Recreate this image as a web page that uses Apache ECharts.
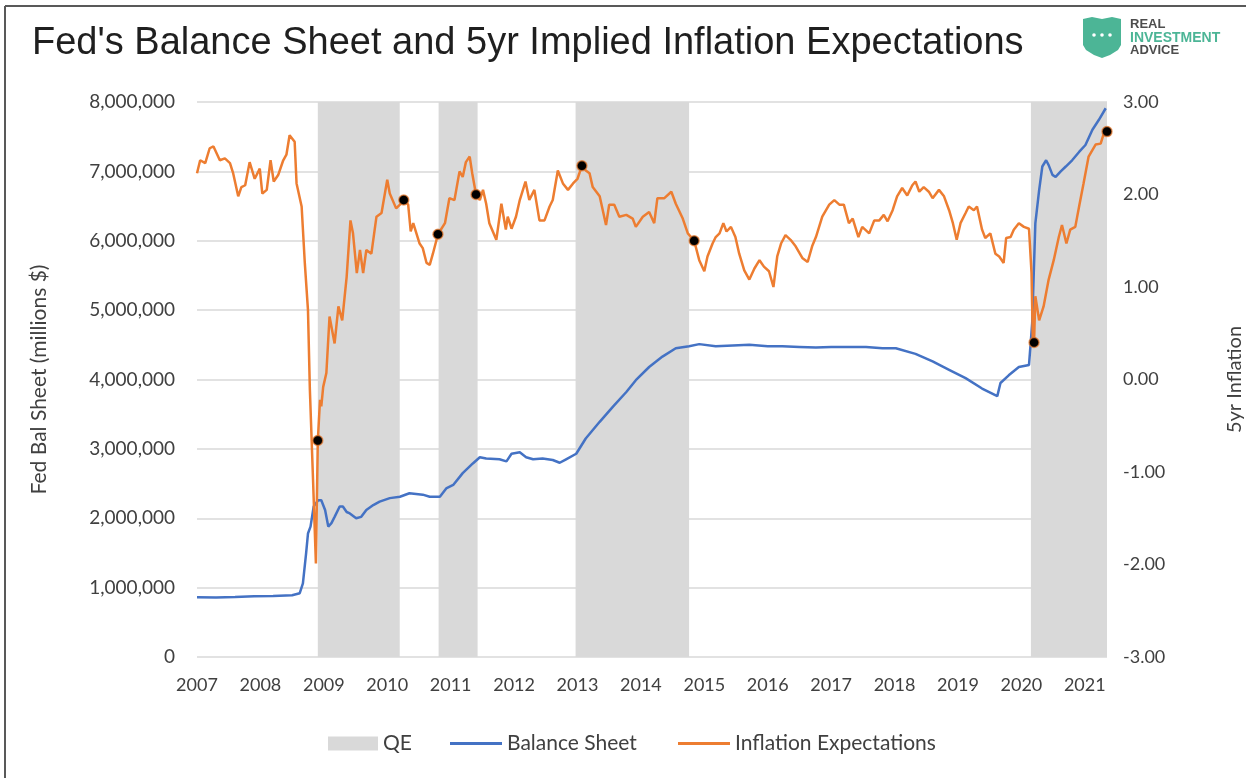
<!DOCTYPE html>
<html><head><meta charset="utf-8">
<script src="https://cdn.jsdelivr.net/npm/echarts@6/dist/echarts.min.js"></script>
<style>html,body{margin:0;padding:0;background:#fff}#c{width:1246px;height:778px}</style>
</head><body><div id="c"></div>
<script>
// ---- data ----
const xMin = 2007, xMax = 2021.35;
const qeStart = [2008.905, 2010.81, 2012.97, 2020.15];
const qeEnd   = [2010.197, 2011.425, 2014.76, 2021.35];

const bsYears = [2007.00,2007.30,2007.60,2007.90,2008.20,2008.50,2008.62,2008.67,2008.72,2008.75,2008.79,2008.84,2008.91,2008.96,2009.02,2009.07,2009.12,2009.17,2009.25,2009.30,2009.36,2009.41,2009.51,2009.59,2009.67,2009.78,2009.88,2010.04,2010.20,2010.35,2010.56,2010.67,2010.83,2010.93,2011.04,2011.19,2011.35,2011.46,2011.56,2011.77,2011.88,2011.96,2012.09,2012.19,2012.30,2012.45,2012.61,2012.72,2012.82,2012.98,2013.13,2013.35,2013.56,2013.77,2013.92,2014.13,2014.34,2014.55,2014.76,2014.92,2015.18,2015.45,2015.71,2016.00,2016.23,2016.50,2016.76,2017.00,2017.28,2017.55,2017.81,2018.02,2018.33,2018.60,2018.86,2019.12,2019.38,2019.62,2019.67,2019.80,2019.96,2020.12,2020.17,2020.22,2020.28,2020.33,2020.39,2020.43,2020.49,2020.54,2020.62,2020.70,2020.80,2020.91,2021.01,2021.12,2021.22,2021.33];
const bsValues = [860000,858000,866000,875000,880000,890000,920000,1060000,1490000,1780000,1880000,2170000,2260000,2260000,2120000,1880000,1930000,2020000,2170000,2170000,2090000,2070000,2000000,2020000,2120000,2190000,2240000,2290000,2310000,2360000,2340000,2310000,2310000,2430000,2480000,2650000,2790000,2880000,2860000,2850000,2820000,2930000,2950000,2880000,2850000,2860000,2840000,2800000,2850000,2930000,3150000,3390000,3610000,3820000,3990000,4180000,4330000,4450000,4480000,4510000,4480000,4490000,4500000,4480000,4480000,4470000,4460000,4470000,4470000,4470000,4450000,4450000,4370000,4260000,4140000,4020000,3870000,3760000,3950000,4060000,4180000,4210000,4810000,6250000,6730000,7070000,7160000,7090000,6950000,6920000,7000000,7070000,7160000,7280000,7380000,7600000,7740000,7910000];

const inflYears = [2007.00,2007.05,2007.13,2007.20,2007.26,2007.36,2007.44,2007.52,2007.57,2007.65,2007.70,2007.76,2007.83,2007.91,2007.99,2008.03,2008.10,2008.16,2008.21,2008.28,2008.36,2008.41,2008.46,2008.54,2008.57,2008.65,2008.70,2008.75,2008.78,2008.83,2008.875,2008.905,2008.94,2008.96,2008.99,2009.04,2009.09,2009.17,2009.23,2009.29,2009.36,2009.42,2009.46,2009.52,2009.57,2009.62,2009.67,2009.75,2009.83,2009.91,2010.00,2010.04,2010.14,2010.20,2010.26,2010.33,2010.37,2010.41,2010.51,2010.56,2010.62,2010.67,2010.72,2010.80,2010.91,2010.98,2011.06,2011.14,2011.19,2011.24,2011.30,2011.34,2011.40,2011.46,2011.51,2011.56,2011.61,2011.72,2011.80,2011.87,2011.90,2011.96,2012.03,2012.09,2012.18,2012.24,2012.32,2012.40,2012.48,2012.56,2012.61,2012.69,2012.77,2012.85,2012.93,2013.00,2013.07,2013.13,2013.19,2013.24,2013.35,2013.45,2013.50,2013.58,2013.66,2013.77,2013.87,2013.92,2014.03,2014.13,2014.21,2014.26,2014.37,2014.48,2014.55,2014.66,2014.74,2014.84,2014.92,2015.00,2015.05,2015.13,2015.18,2015.24,2015.30,2015.35,2015.42,2015.49,2015.55,2015.63,2015.71,2015.79,2015.87,2015.94,2016.02,2016.09,2016.15,2016.21,2016.28,2016.36,2016.44,2016.55,2016.63,2016.70,2016.76,2016.86,2016.97,2017.05,2017.13,2017.20,2017.28,2017.34,2017.43,2017.49,2017.60,2017.68,2017.76,2017.83,2017.89,2017.97,2018.04,2018.12,2018.20,2018.28,2018.33,2018.39,2018.46,2018.54,2018.60,2018.70,2018.78,2018.86,2018.92,2018.98,2019.04,2019.12,2019.17,2019.25,2019.30,2019.38,2019.43,2019.51,2019.59,2019.65,2019.72,2019.76,2019.83,2019.88,2019.96,2020.04,2020.12,2020.16,2020.18,2020.20,2020.22,2020.28,2020.35,2020.43,2020.51,2020.59,2020.64,2020.71,2020.77,2020.85,2020.91,2020.98,2021.06,2021.17,2021.25,2021.30,2021.35];
const inflValues = [2.23,2.37,2.34,2.50,2.52,2.37,2.39,2.34,2.23,1.98,2.08,2.10,2.35,2.17,2.28,2.01,2.05,2.37,2.14,2.21,2.37,2.43,2.64,2.57,2.12,1.87,1.26,0.75,-0.11,-1.09,-1.99,-0.66,-0.22,-0.29,-0.08,0.07,0.68,0.39,0.79,0.64,1.11,1.72,1.58,1.15,1.40,1.15,1.40,1.36,1.76,1.80,2.16,2.01,1.85,1.89,1.94,1.89,1.60,1.69,1.47,1.42,1.26,1.24,1.36,1.57,1.69,1.96,1.94,2.25,2.19,2.35,2.41,2.23,2.00,1.94,2.05,1.90,1.69,1.51,1.90,1.62,1.76,1.63,1.76,1.94,2.14,1.94,2.05,1.72,1.72,1.87,1.94,2.26,2.12,2.05,2.12,2.17,2.31,2.26,2.23,2.08,1.98,1.67,1.89,1.89,1.76,1.78,1.74,1.65,1.76,1.81,1.69,1.96,1.96,2.03,1.90,1.74,1.58,1.50,1.29,1.17,1.33,1.47,1.54,1.58,1.69,1.60,1.65,1.54,1.36,1.18,1.08,1.20,1.29,1.22,1.17,1.00,1.33,1.47,1.56,1.51,1.44,1.31,1.27,1.44,1.54,1.76,1.89,1.94,1.89,1.89,1.69,1.74,1.54,1.65,1.58,1.72,1.72,1.78,1.71,1.83,1.98,2.07,1.99,2.10,2.14,2.03,2.08,2.03,1.96,2.05,1.98,1.83,1.69,1.51,1.69,1.80,1.87,1.83,1.87,1.62,1.53,1.58,1.36,1.33,1.26,1.53,1.54,1.62,1.69,1.65,1.63,1.15,0.43,0.40,0.90,0.64,0.79,1.08,1.29,1.54,1.67,1.47,1.62,1.65,1.87,2.12,2.41,2.54,2.55,2.66,2.68];

const dotYears  = [2008.905,2010.26,2010.80,2011.40,2013.07,2014.84,2020.20,2021.35];
const dotValues = [-0.66,1.94,1.57,2.00,2.31,1.50,0.40,2.68];

const leftTicks = {min: 0, max: 8000000, interval: 1000000};
const rightTicks = {min: -3, max: 3, interval: 1};

// ---- chart ----
const pairs = (xs, ys) => xs.map((x, i) => [x, ys[i]]);
const FONT = 'Lato';
const TXT = '#404040';
const chart = echarts.init(document.getElementById('c'), null, {renderer: 'canvas'});
chart.setOption({
  animation: false,
  backgroundColor: '#ffffff',
  title: {
    text: "Fed's Balance Sheet and 5yr Implied Inflation Expectations",
    left: 32, top: 25, padding: 0,
    textStyle: {fontFamily: 'Liberation Sans', fontSize: 38, fontWeight: 'normal', color: '#1f1f1f'}
  },
  grid: {left: 197, right: 139, top: 102, bottom: 121, outerBoundsMode: 'none', containLabel: false},
  legend: [
    {data: [{name: 'QE', icon: 'rect'}], left: 323, top: 728, itemWidth: 50, itemHeight: 14,
     textStyle: {fontFamily: FONT, fontSize: 21, color: TXT}, selectedMode: false},
    {data: [{name: 'Balance Sheet', icon: 'rect'}], left: 445, top: 728, itemWidth: 52, itemHeight: 3,
     textStyle: {fontFamily: FONT, fontSize: 21, color: TXT}, selectedMode: false},
    {data: [{name: 'Inflation Expectations', icon: 'rect'}], left: 673, top: 728, itemWidth: 52, itemHeight: 3,
     textStyle: {fontFamily: FONT, fontSize: 21, color: TXT}, selectedMode: false}
  ],
  xAxis: {
    type: 'value', min: xMin, max: xMax, interval: 1,
    axisLine: {show: false}, axisTick: {show: false}, splitLine: {show: false},
    axisLabel: {showMaxLabel: false, margin: 19, fontFamily: FONT, fontSize: 18, color: TXT,
      formatter: v => String(Math.round(v))}
  },
  yAxis: [
    {type: 'value', min: leftTicks.min, max: leftTicks.max, interval: leftTicks.interval, position: 'left',
     name: 'Fed Bal Sheet (millions $)', nameLocation: 'middle', nameRotate: 90, nameGap: 147,
     nameTextStyle: {fontFamily: FONT, fontSize: 21, color: TXT},
     axisLine: {show: false}, axisTick: {show: false},
     splitLine: {lineStyle: {color: '#d9d9d9', width: 1.5}},
     axisLabel: {margin: 22, fontFamily: FONT, fontSize: 19, color: TXT,
       formatter: v => v.toLocaleString('en-US')}},
    {type: 'value', min: rightTicks.min, max: rightTicks.max, interval: rightTicks.interval, position: 'right',
     name: '5yr Inflation', nameLocation: 'middle', nameRotate: 90, nameGap: 118,
     nameTextStyle: {fontFamily: FONT, fontSize: 20, color: TXT},
     axisLine: {show: false}, axisTick: {show: false}, splitLine: {show: false},
     axisLabel: {margin: 16, fontFamily: FONT, fontSize: 18, color: TXT,
       formatter: v => v.toFixed(2)}}
  ],
  series: [
    {name: 'QE', type: 'line', data: [], yAxisIndex: 0, symbol: 'none',
     itemStyle: {color: '#d9d9d9'}, lineStyle: {color: '#d9d9d9'},
     markArea: {silent: true, itemStyle: {color: '#d9d9d9'},
       data: qeStart.map((s, i) => [{xAxis: s}, {xAxis: qeEnd[i]}])}},
    {name: 'Balance Sheet', type: 'line', yAxisIndex: 0, symbol: 'none',
     data: pairs(bsYears, bsValues), itemStyle: {color: '#4472c4'},
     lineStyle: {color: '#4472c4', width: 2.5}, z: 3},
    {name: 'Inflation Expectations', type: 'line', yAxisIndex: 1, symbol: 'none',
     data: pairs(inflYears, inflValues), itemStyle: {color: '#ed7d31'},
     lineStyle: {color: '#ed7d31', width: 2.5}, z: 4},
    {name: 'Points', type: 'scatter', yAxisIndex: 1, data: pairs(dotYears, dotValues),
     symbolSize: 10, clip: false,
     itemStyle: {color: '#000', opacity: 1, borderColor: 'rgba(237,125,49,0.7)', borderWidth: 1.5}, z: 5}
  ],
  graphic: [
    {type: 'line', shape: {x1: 5, y1: 6, x2: 1246, y2: 6}, style: {stroke: '#595959', lineWidth: 2}},
    {type: 'line', shape: {x1: 5, y1: 6, x2: 5, y2: 778}, style: {stroke: '#595959', lineWidth: 2}},
    {type: 'polygon', shape: {points: [[1083,19],[1092,17],[1102,19],[1112,17],[1121,19],[1121,45],[1118,50],[1110,55],[1102,58],[1094,55],[1086,50],[1083,45]]},
     style: {fill: '#4cb596'}},
    {type: 'circle', shape: {cx: 1094, cy: 35, r: 1.8}, style: {fill: '#fff'}},
    {type: 'circle', shape: {cx: 1102, cy: 35, r: 1.8}, style: {fill: '#fff'}},
    {type: 'circle', shape: {cx: 1110, cy: 35, r: 1.8}, style: {fill: '#fff'}},
    {type: 'text', left: 1130, top: 18, style: {text: 'REAL', fontFamily: 'Liberation Sans', fontWeight: 'bold', fontSize: 13, fill: '#4d4d4d'}},
    {type: 'text', left: 1130, top: 31, style: {text: 'INVESTMENT', fontFamily: 'Liberation Sans', fontWeight: 'bold', fontSize: 14, fill: '#4cb596'}},
    {type: 'text', left: 1130, top: 44, style: {text: 'ADVICE', fontFamily: 'Liberation Sans', fontWeight: 'bold', fontSize: 13, fill: '#4d4d4d'}}
  ]
});
</script></body></html>
